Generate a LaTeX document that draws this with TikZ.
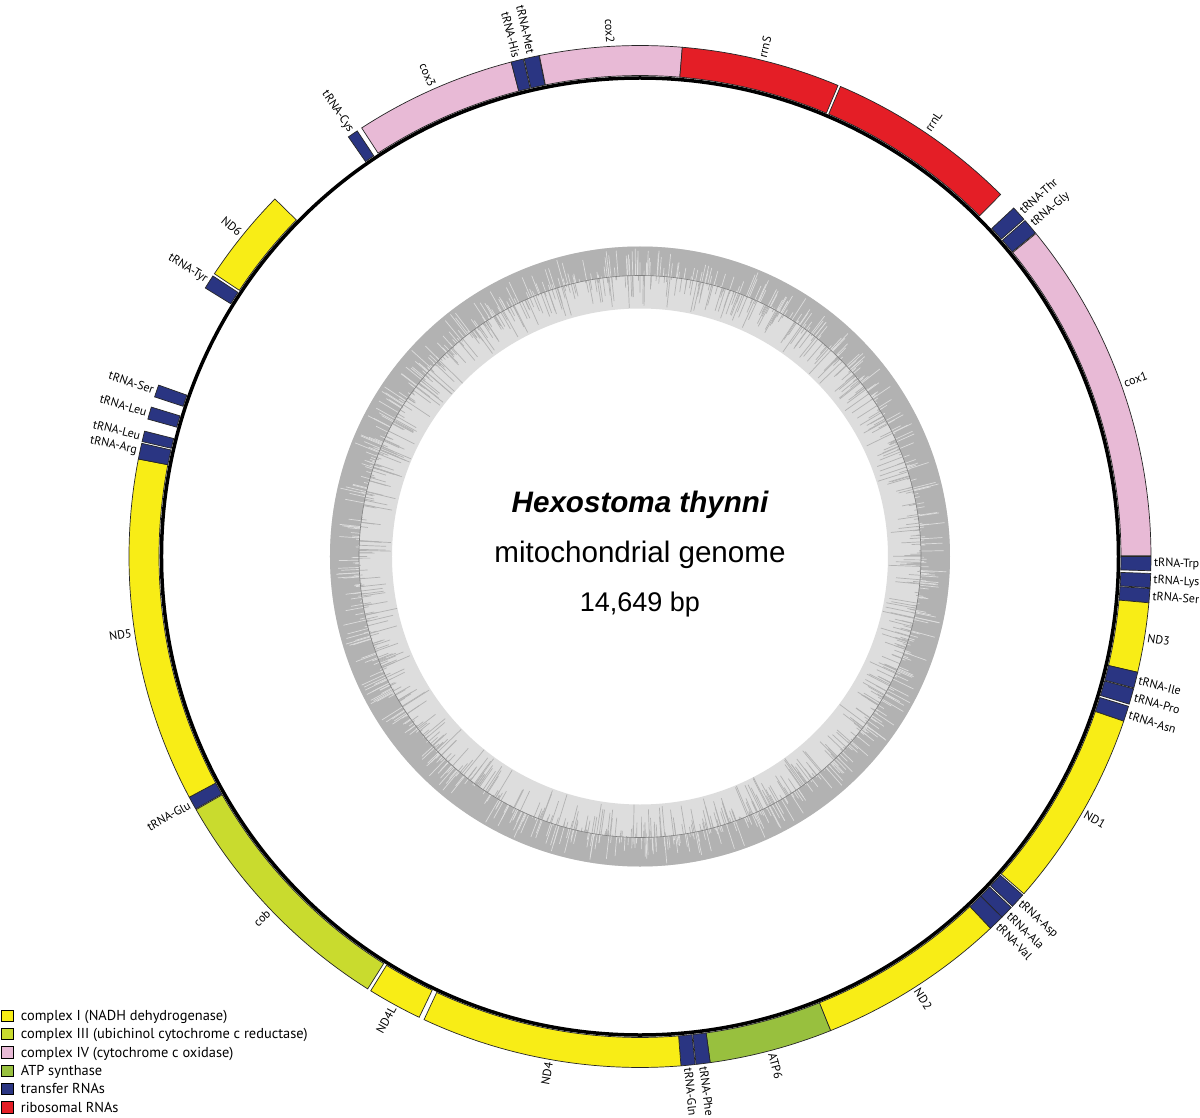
\documentclass[tikz,border=0pt]{standalone}
\usepackage{fontspec}
\setmainfont{Liberation Sans}
\newfontfamily\lblfont{PT Sans}
\definecolor{cyellow}{RGB}{248,237,22}
\definecolor{clime}{RGB}{201,219,46}
\definecolor{cpink}{RGB}{232,186,214}
\definecolor{cgreen}{RGB}{152,192,62}
\definecolor{cblue}{RGB}{42,53,130}
\definecolor{cred}{RGB}{228,30,38}
\definecolor{ringdark}{RGB}{178,178,178}
\definecolor{ringlight}{RGB}{221,221,221}
\tikzset{
  featline/.style={draw=black!85, line width=0.7pt},
  lbl/.style={font=\lblfont\fontsize{12}{14}\selectfont, inner sep=0pt, text=black},
  legbox/.style={draw=black, line width=0.9pt, minimum width=12.5pt, minimum height=11.5pt, inner sep=0pt},
  legtext/.style={font=\lblfont\fontsize{14.4}{16}\selectfont, inner sep=0pt, anchor=base west},
  centertext/.style={inner sep=0pt, anchor=base},
  lighttick/.style={draw=ringlight, line width=0.7pt},
  darktick/.style={draw=ringdark, line width=0.7pt}
}
\newcommand\genefeat[5]{%
  \pgfmathsetmacro\gsa{90-(#1)}%
  \pgfmathsetmacro\gea{90-(#2)}%
  \path[fill=#3, featline] (\gsa:481) arc[start angle=\gsa, end angle=\gea, radius=481]
     -- (\gea:511) arc[start angle=\gea, end angle=\gsa, radius=511] -- cycle;
  \pgfmathsetmacro\gmid{((#1)+(#2))/2}%
  \pgfmathtruncatemacro\gisright{and(\gmid>0,\gmid<180)}%
  \pgfmathsetmacro\gpos{90-\gmid}%
  \ifnum\gisright=1
    \pgfmathsetmacro\grot{90-\gmid}%
    \node[lbl, anchor=west, rotate=\grot] (#5) at (\gpos:514) {#4};
  \else
    \pgfmathsetmacro\grot{270-\gmid}%
    \node[lbl, anchor=east, rotate=\grot] (#5) at (\gpos:514) {#4};
  \fi
}
\begin{document}
\begin{tikzpicture}[x=1pt,y=1pt]
\useasboundingbox (-640,-560.5) rectangle (560,556.5);
\fill[white] (-640,-560.5) rectangle (560,556.5);
% GC ring
\fill[ringlight, even odd rule] (0,0) circle[radius=310] (0,0) circle[radius=248];
\fill[ringdark, even odd rule] (0,0) circle[radius=310] (0,0) circle[radius=281];
\pgfmathsetseed{4711}
\foreach \i in {1,...,900} {
  \pgfmathsetmacro\ta{rnd*360}
  \pgfmathsetmacro\tu{rnd}
  \pgfmathsetmacro\tr{281+27*\tu*\tu}
  \draw[lighttick] (\ta:281) -- (\ta:\tr);
}
\foreach \i in {1,...,1000} {
  \pgfmathsetmacro\ta{rnd*360}
  \pgfmathsetmacro\tu{rnd}
  \pgfmathsetmacro\tr{281-33*\tu*\tu}
  \draw[darktick] (\ta:281) -- (\ta:\tr);
}
\draw[black!50, line width=0.6pt] (0,0) circle[radius=281];
% center text
\node[centertext, font=\fontsize{29.6}{31}\selectfont\bfseries\itshape] (title) at (0,43.8) {Hexostoma thynni};
\node[centertext, font=\fontsize{29.6}{31}\selectfont] (subtitle) at (0,-6.1) {mitochondrial genome};
\node[centertext, font=\fontsize{27}{30}\selectfont] (size) at (0,-55.1) {14,649 bp};
% features
\genefeat{-11.35}{4.75}{cpink}{cox2}{cox2}
\genefeat{4.75}{22.8}{cred}{rrnS}{rrnS}
\genefeat{23.1}{44.9}{cred}{rrnL}{rrnL}
\genefeat{47.0}{48.7}{cblue}{tRNA-Thr}{thr}
\genefeat{48.9}{50.7}{cblue}{tRNA-Gly}{gly}
\genefeat{50.8}{89.9}{cpink}{cox1}{cox1}
\genefeat{90.0}{91.6}{cblue}{tRNA-Trp}{trp}
\genefeat{91.9}{93.5}{cblue}{tRNA-Lys}{lys}
\genefeat{93.6}{95.2}{cblue}{tRNA-Ser}{serA}
\genefeat{95.2}{103.1}{cyellow}{ND3}{nd3}
\genefeat{103.1}{104.9}{cblue}{tRNA-Ile}{ile}
\genefeat{105.0}{106.8}{cblue}{tRNA-Pro}{pro}
\genefeat{107.05}{108.8}{cblue}{tRNA-Asn}{asn}
\genefeat{108.8}{131.3}{cyellow}{ND1}{nd1}
\genefeat{131.5}{133.2}{cblue}{tRNA-Asp}{asp}
\genefeat{133.4}{134.9}{cblue}{tRNA-Ala}{ala}
\genefeat{134.9}{136.7}{cblue}{tRNA-Val}{val}
\genefeat{136.7}{158.1}{cyellow}{ND2}{nd2}
\genefeat{158.1}{172.1}{cgreen}{ATP6}{atp6}
\genefeat{172.1}{173.7}{cblue}{tRNA-Phe}{phe}
\genefeat{173.8}{175.4}{cblue}{tRNA-Gln}{gln}
\genefeat{175.4}{205.0}{cyellow}{ND4}{nd4}
\genefeat{205.6}{211.8}{cyellow}{ND4L}{nd4l}
\genefeat{212.2}{240.3}{clime}{cob}{cob}
\genefeat{240.4}{241.9}{cblue}{tRNA-Glu}{glu}
\genefeat{241.9}{281.0}{cyellow}{ND5}{nd5}
\genefeat{281.0}{282.8}{cblue}{tRNA-Arg}{arg}
\genefeat{283.0}{284.2}{cblue}{tRNA-Leu}{leuA}
\genefeat{285.6}{287.0}{cblue}{tRNA-Leu}{leuB}
\genefeat{288.2}{289.6}{cblue}{tRNA-Ser}{serB}
\genefeat{301.7}{303.3}{cblue}{tRNA-Tyr}{tyr}
\genefeat{303.6}{314.4}{cyellow}{ND6}{nd6}
\genefeat{325.2}{326.4}{cblue}{tRNA-Cys}{cys}
\genefeat{327.0}{345.4}{cpink}{cox3}{cox3}
\genefeat{345.4}{346.8}{cblue}{tRNA-His}{his}
\genefeat{346.9}{348.6}{cblue}{tRNA-Met}{met}
% black genome circle
\draw[black, line width=3.5pt] (0,0) circle[radius=478.5];
% legend
\node[legbox, fill=cyellow] (lb1) at (-632.7,-459.2) {};
\node[legbox, fill=clime]   (lb2) at (-632.7,-477.56) {};
\node[legbox, fill=cpink]   (lb3) at (-632.7,-495.92) {};
\node[legbox, fill=cgreen]  (lb4) at (-632.7,-514.28) {};
\node[legbox, fill=cblue]   (lb5) at (-632.7,-532.64) {};
\node[legbox, fill=cred]    (lb6) at (-632.7,-551.0) {};
\node[legtext] (lt1) at (-619.3,-464.0) {complex I (NADH dehydrogenase)};
\node[legtext] (lt2) at (-619.3,-482.36) {complex III (ubichinol cytochrome c reductase)};
\node[legtext] (lt3) at (-619.3,-500.72) {complex IV (cytochrome c oxidase)};
\node[legtext] (lt4) at (-619.3,-519.08) {ATP synthase};
\node[legtext] (lt5) at (-619.3,-537.44) {transfer RNAs};
\node[legtext] (lt6) at (-619.3,-555.8) {ribosomal RNAs};
\end{tikzpicture}
\end{document}
